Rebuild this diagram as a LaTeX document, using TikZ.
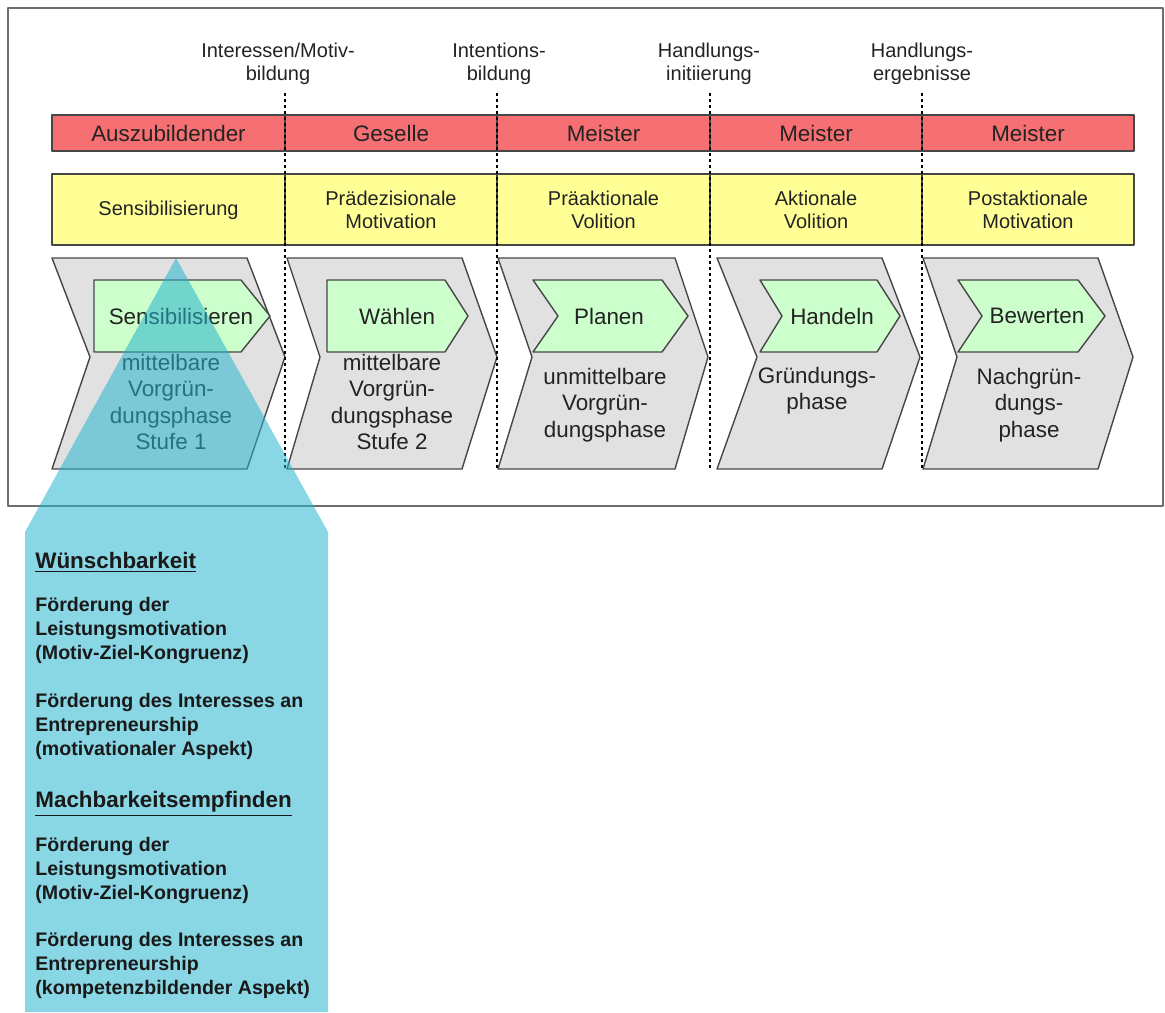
\documentclass[tikz,border=0pt]{standalone}
\usepackage{fontspec}
\setmainfont{Liberation Sans}
\usepackage{tikz}

\definecolor{rahmen}{RGB}{110,110,110}
\definecolor{linie}{RGB}{70,70,70}
\definecolor{rot}{RGB}{246,112,115}
\definecolor{gelb}{RGB}{255,255,150}
\definecolor{grau}{RGB}{225,225,225}
\definecolor{gruen}{RGB}{204,255,204}
\definecolor{blau}{RGB}{40,180,205}
\definecolor{schrift}{RGB}{35,35,35}

\newcommand{\schriftgross}{\fontsize{11.2}{13.2}\selectfont}
\newcommand{\schriftklein}{\fontsize{10}{11.5}\selectfont}
\newcommand{\schriftfett}{\fontsize{9.8}{12}\selectfont\bfseries}
\newcommand{\schrifttitel}{\fontsize{11.2}{13}\selectfont\bfseries}

\begin{document}
\begin{tikzpicture}[line cap=round,line join=round,x=0.5pt,y=-0.5pt,
    kante/.style={draw=linie,line width=0.7pt},
    trenn/.style={draw=black,line width=1.4pt,line cap=butt,dash pattern=on 1.5pt off 1.5pt},
    txt/.style={font=\schriftgross,text=schrift,align=center,inner sep=0pt},
    txtk/.style={font=\schriftklein,text=schrift,align=center,inner sep=0pt},
    blautext/.style={font=\schriftfett,text=black!90,align=left,anchor=west,inner sep=0pt}]
      \useasboundingbox (0,0) rectangle (1165,1012);
      % Rahmen
      \draw[color=rahmen,line width=1pt] (8,8) rectangle (1163,506);
      % Rollen
      \foreach \a/\b/\t [count=\i] in {52/285/Auszubildender,285/497/Geselle,497/710/Meister,710/922/Meister,922/1134/Meister}
      {
      \draw[kante,fill=rot] (\a,115) rectangle (\b,151);
      \node[txt] (rolle\i) at ({(\a+\b)/2},133) {\t};
      }
      % Handlungsphasen
      \foreach \a/\b/\t [count=\i] in {52/285/{Sensibilisierung},285/497/{Prädezisionale\\Motivation},497/710/{Präaktionale\\Volition},710/922/{Aktionale\\Volition},922/1134/{Postaktionale\\Motivation}}
      {
      \draw[kante,fill=gelb] (\a,174) rectangle (\b,245);
      \node[txtk] (phase\i) at ({(\a+\b)/2},210) {\t};
      }
      % Gruendungsphasen
      \foreach \a/\b/\c/\d in {52/90/247/285,287/320/462/497,498/532/675/708,717/757/882/920,923/957/1098/1133}
      \draw[kante,fill=grau] (\a,258) -- (\c,258) -- (\d,357) -- (\c,469) -- (\a,469) -- (\b,357) -- cycle;
      \foreach \a/\b/\c/\d in {94/94/241/270,327/327/445/468,533/558/662/688,760/782/877/900,958/982/1078/1105}
      \draw[kante,fill=gruen] (\a,280) -- (\c,280) -- (\d,316) -- (\c,352) -- (\a,352) -- (\b,316) -- cycle;
      \foreach \x/\t [count=\i] in {181/Sensibilisieren,397/Wählen,609/Planen,832/Handeln,1037/Bewerten}
      \node[txt] (taetig\i) at (\x,316) {\t};
      \node[txt] (stufe1) at (171,402) {mittelbare\\Vorgrün-\\dungsphase\\Stufe 1};
      \node[txt] (stufe2) at (392,402) {mittelbare\\Vorgrün-\\dungsphase\\Stufe 2};
      \node[txt] (stufe3) at (605,405) {unmittelbare\\Vorgrün-\\dungsphase};
      \node[txt] (stufe4) at (817,391) {Gründungs-\\phase};
      \node[txt] (stufe5) at (1029,405) {Nachgrün-\\dungs-\\phase};
      % Uebergaenge
      \foreach \x in {285,497,710,922}
      \draw[trenn] (\x,93) -- (\x,468);
      \node[txtk] (grenze1) at (278,64) {Interessen/Motiv-\\bildung};
      \node[txtk] (grenze2) at (499,64) {Intentions-\\bildung};
      \node[txtk] (grenze3) at (709,64) {Handlungs-\\initiierung};
      \node[txtk] (grenze4) at (922,64) {Handlungs-\\ergebnisse};
      % Foerderung in Stufe 1
      \fill[blau,opacity=0.55] (176,258) -- (328,532) -- (328,1012) -- (25,1012) -- (25,532) -- cycle;
      \node[blautext,font=\schrifttitel] (wunsch) at (35,562) {\underline{Wünschbarkeit}};
      \node[blautext] (wunschA) at (35,630) {Förderung der\\Leistungsmotivation\\(Motiv-Ziel-Kongruenz)};
      \node[blautext] (wunschB) at (35,726) {Förderung des Interesses an\\Entrepreneurship\\(motivationaler Aspekt)};
      \node[blautext,font=\schrifttitel] (machbar) at (35,804) {\underline{Machbarkeitsempfinden}};
      \node[blautext] (machbarA) at (35,870) {Förderung der\\Leistungsmotivation\\(Motiv-Ziel-Kongruenz)};
      \node[blautext] (machbarB) at (35,965) {Förderung des Interesses an\\Entrepreneurship\\(kompetenzbildender Aspekt)};
    \end{tikzpicture}
\end{document}
